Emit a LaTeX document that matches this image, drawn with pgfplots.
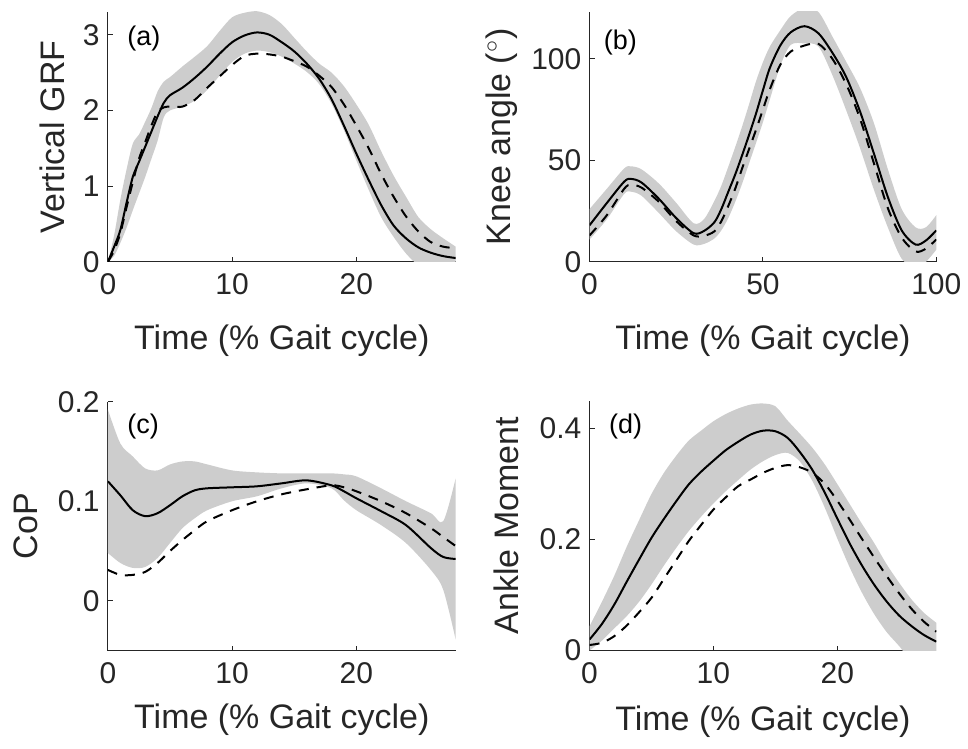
\documentclass[border=0pt]{standalone}
\usepackage{fontspec}
\setmainfont{Liberation Sans}
\usepackage{pgfplots}
\pgfplotsset{compat=1.18}
\usepgfplotslibrary{fillbetween}

\definecolor{axisgray}{RGB}{38,38,38}
\definecolor{bandgray}{RGB}{205,205,205}
\newcommand\ticksize{\fontsize{15}{18}\selectfont}
\newcommand\labelsize{\fontsize{17}{20}\selectfont}
\newcommand\panelsize{\fontsize{13.5}{16}\selectfont}

% panel (a): vertical GRF
\pgfplotstableread{
x    up    lo     sol   dsh
0    0     0      0     0
0.5  0.35  0.08   0.20  0.15
1    0.82  0.25   0.42  0.38
1.5  1.22  0.45   0.78  0.72
2    1.56  0.68   1.12  1.05
2.5  1.68  0.90   1.32  1.36
3    1.85  1.12   1.52  1.58
3.5  2.03  1.36   1.72  1.80
4    2.25  1.60   1.92  1.98
4.5  2.38  1.91   2.10  2.04
5    2.44  2.00   2.20  2.05
6    2.58  2.05   2.30  2.05
7    2.71  2.13   2.43  2.14
8    2.85  2.27   2.58  2.30
9    3.05  2.46   2.75  2.45
10   3.23  2.64   2.90  2.60
11   3.29  2.75   2.99  2.72
12   3.31  2.79   3.03  2.75
13   3.26  2.77   3.00  2.74
14   3.14  2.71   2.90  2.71
15   2.96  2.62   2.78  2.65
16   2.78  2.51   2.62  2.58
17   2.62  2.35   2.42  2.46
18   2.50  2.09   2.15  2.31
19   2.32  1.74   1.80  2.08
20   2.08  1.34   1.43  1.80
21   1.81  0.95   1.08  1.50
22   1.46  0.59   0.75  1.16
23   1.14  0.33   0.48  0.86
24   0.86  0.11   0.31  0.60
25   0.59  -0.05  0.19  0.40
26   0.43  -0.15  0.12  0.26
27   0.31  -0.20  0.075 0.20
28   0.20  -0.20  0.05  0.18
}\tA

% panel (b): knee angle
\pgfplotstableread{
x    up    lo     sol   dsh
0    26    11     18    13
5    36    21     29    23
10   46    33.5   39.5  36
12   47    34.5   40.8  37.9
15   45.5  32.5   39    36.5
20   38.5  24     31    29.5
25   29    15     21.5  20
30   19    8.5    14.1  13
33   21    8.8    15.2  12.8
36   30    11.5   19.5  15
38   37.5  15.5   26    20
40   46.8  21.5   34.5  27.5
42   56.5  29.5   43    36
44   66.7  38.5   52.5  46
46   77.6  48.5   62.5  55.5
48   88.9  58.5   73    65
50   98.3  68.8   84.5  75
52   106   80     95.5  85
55   114   96.5   106.5 97
58   121   106.8  113   103.5
62   125   107.5  116   106.5
66   123   106    112.5 107.3
70   111   92     103   100
74   98.5  74.6   91    87.5
78   85.6  56     74    70.5
82   68.3  35.5   53.3  48.5
86   45.7  17     32    26.5
90   26    1.5    15.5  12
94   17    -3     8.5   5.1
97   17    0      10.5  6.5
100  23    6      15.5  11
}\tB

% panel (c): CoP
\pgfplotstableread{
x    up     lo      sol    dsh
0    0.192  0.048   0.120  0.031
1    0.158  0.038   0.106  0.026
2    0.145  0.033   0.091  0.026
3    0.133  0.034   0.085  0.029
4    0.131  0.043   0.088  0.038
5    0.137  0.058   0.096  0.050
6    0.140  0.073   0.105  0.061
7    0.140  0.083   0.111  0.071
8    0.137  0.091   0.113  0.080
10   0.131  0.100   0.114  0.091
12   0.129  0.105   0.115  0.100
14   0.128  0.113   0.118  0.107
16   0.128  0.118   0.121  0.112
18   0.128  0.113   0.116  0.116
19   0.127  0.101   0.110  0.114
20   0.125  0.091   0.103  0.110
22   0.113  0.076   0.090  0.100
24   0.100  0.058   0.076  0.088
26   0.088  0.031   0.053  0.073
27   0.080  0.011   0.044  0.064
28   0.123  -0.039  0.042  0.055
}\tC

% panel (d): ankle moment
\pgfplotstableread{
x    up     lo      sol    dsh
0    0.044  0.000   0.020  0.010
1    0.088  0.018   0.048  0.014
2    0.135  0.040   0.083  0.026
3    0.187  0.062   0.124  0.045
4    0.235  0.088   0.164  0.069
5    0.282  0.119   0.203  0.095
6    0.320  0.153   0.237  0.129
7    0.351  0.185   0.269  0.163
8    0.378  0.215   0.299  0.197
9    0.396  0.241   0.322  0.226
10   0.413  0.265   0.342  0.254
11   0.426  0.287   0.361  0.276
12   0.436  0.307   0.376  0.296
13   0.443  0.326   0.389  0.308
14   0.445  0.341   0.396  0.320
15   0.440  0.352   0.395  0.329
16   0.414  0.356   0.383  0.334
17   0.390  0.340   0.357  0.330
18   0.365  0.305   0.325  0.320
19   0.335  0.257   0.284  0.300
20   0.300  0.202   0.238  0.270
21   0.264  0.150   0.193  0.236
22   0.228  0.104   0.153  0.201
23   0.193  0.065   0.118  0.167
24   0.155  0.033   0.088  0.134
25   0.122  0.008   0.063  0.103
26   0.092  -0.020  0.044  0.075
27   0.068  -0.030  0.028  0.052
28   0.050  -0.030  0.016  0.034
}\tD

\pgfplotsset{
  panel/.style={
    scale only axis,
    axis x line*=bottom, axis y line*=left,
    axis line style={-, draw=axisgray, line width=0.5pt},
    tick align=inside, major tick length=2.5pt,
    tick style={draw=axisgray, line width=0.5pt},
    every tick label/.append style={font=\ticksize, text=axisgray},
    xticklabel style={yshift=-2.4pt},
    yticklabel style={xshift=-0.6pt},
    label style={font=\labelsize, text=axisgray},
    /pgf/number format/assume math mode=true,
    xlabel={Time (\% Gait cycle)},
  },
  band/.style={draw=none, smooth},
  meanline/.style={black, line width=1pt, smooth},
  dashline/.style={black, line width=1pt, smooth, dash pattern=on 5pt off 4pt},
}
\tikzset{plabel/.style={anchor=west, inner sep=0pt, font=\panelsize}}

\begin{document}
\begin{tikzpicture}
\path (0,0) rectangle (484pt,-374.5pt);

% (a)
\begin{axis}[panel, at={(54pt,-131pt)}, anchor=south west,
  width=174pt, height=125pt,
  xmin=0, xmax=28, ymin=0, ymax=3.3,
  xtick={0,10,20}, ytick={0,1,2,3},
  ylabel={Vertical GRF},
  xlabel style={at={(axis description cs:0.5,-0.352)}, anchor=base},
  ylabel style={at={(axis description cs:-0.1236,0.5)}, anchor=base},
]
\addplot[band, name path=up] table[x=x,y=up]{\tA};
\addplot[band, name path=lo] table[x=x,y=lo]{\tA};
\addplot[fill=bandgray, draw=none] fill between[of=up and lo];
\addplot[meanline] table[x=x,y=sol]{\tA};
\addplot[dashline] table[x=x,y=dsh]{\tA};
\node[plabel] at (rel axis cs:0.055,0.892) {(a)};
\end{axis}

% (b)
\begin{axis}[panel, at={(295pt,-131pt)}, anchor=south west,
  width=173.5pt, height=125pt,
  xmin=0, xmax=100, ymin=0, ymax=123,
  xtick={0,50,100}, ytick={0,50,100},
  ylabel={Knee angle ($^\circ$)},
  xlabel style={at={(axis description cs:0.5,-0.352)}, anchor=base},
  ylabel style={at={(axis description cs:-0.2277,0.5)}, anchor=base},
]
\addplot[band, name path=up] table[x=x,y=up]{\tB};
\addplot[band, name path=lo] table[x=x,y=lo]{\tB};
\addplot[fill=bandgray, draw=none] fill between[of=up and lo];
\addplot[meanline] table[x=x,y=sol]{\tB};
\addplot[dashline] table[x=x,y=dsh]{\tB};
\node[plabel] at (rel axis cs:0.04,0.876) {(b)};
\end{axis}

% (c)
\begin{axis}[panel, at={(54pt,-325.5pt)}, anchor=south west,
  width=174pt, height=124.5pt,
  xmin=0, xmax=28, ymin=-0.05, ymax=0.2,
  xtick={0,10,20}, ytick={0,0.1,0.2},
  ylabel={CoP},
  xlabel style={at={(axis description cs:0.5,-0.313)}, anchor=base},
  ylabel style={at={(axis description cs:-0.2011,0.5)}, anchor=base},
]
\addplot[band, name path=up] table[x=x,y=up]{\tC};
\addplot[band, name path=lo] table[x=x,y=lo]{\tC};
\addplot[fill=bandgray, draw=none] fill between[of=up and lo];
\addplot[meanline] table[x=x,y=sol]{\tC};
\addplot[dashline] table[x=x,y=dsh]{\tC};
\node[plabel] at (rel axis cs:0.055,0.90) {(c)};
\end{axis}

% (d)
\begin{axis}[panel, at={(295pt,-325.5pt)}, anchor=south west,
  width=173.5pt, height=125pt,
  xmin=0, xmax=28, ymin=0, ymax=0.45,
  xtick={0,10,20}, ytick={0,0.2,0.4},
  ylabel={Ankle Moment},
  xlabel style={at={(axis description cs:0.5,-0.32)}, anchor=base},
  ylabel style={at={(axis description cs:-0.2046,0.5)}, anchor=base},
]
\addplot[band, name path=up] table[x=x,y=up]{\tD};
\addplot[band, name path=lo] table[x=x,y=lo]{\tD};
\addplot[fill=bandgray, draw=none] fill between[of=up and lo];
\addplot[meanline] table[x=x,y=sol]{\tD};
\addplot[dashline] table[x=x,y=dsh]{\tD};
\node[plabel] at (rel axis cs:0.055,0.896) {(d)};
\end{axis}
\end{tikzpicture}
\end{document}
